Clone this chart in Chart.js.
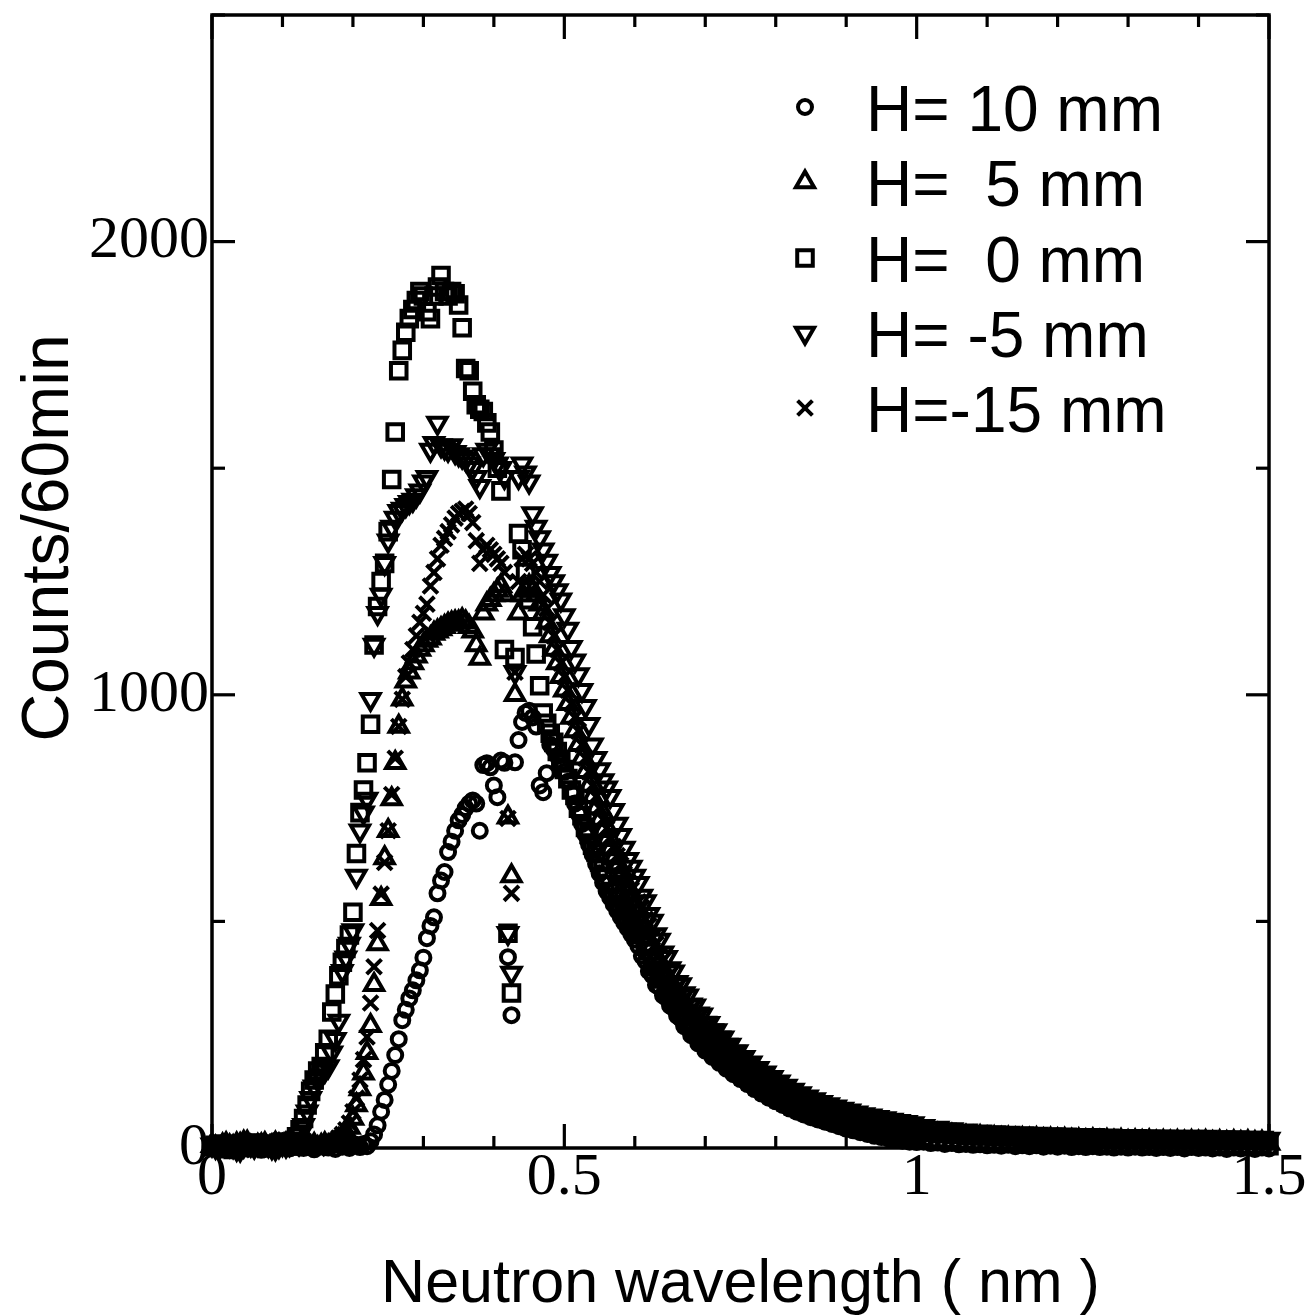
<!DOCTYPE html>
<html><head><meta charset="utf-8">
<script src="https://cdn.jsdelivr.net/npm/chart.js@4.4.1/dist/chart.umd.min.js"></script>
<style>html,body{margin:0;padding:0;background:#fff}canvas{display:block}</style>
</head><body>
<canvas id="c" width="1308" height="1315"></canvas>
<script>
// Neutron wavelength (nm)
const wavelength = [0,0.005,0.01,0.015,0.02,0.025,0.03,0.035,0.04,0.045,0.05,0.055,0.06,0.065,0.07,0.075,0.08,0.085,0.09,0.095,0.1,
0.105,0.11,0.115,0.12,0.125,0.13,0.135,0.14,0.145,0.15,
0.155,0.16,0.165,0.17,0.175,0.18,0.185,0.19,0.195,0.2,
0.205,0.21,0.215,0.22,0.225,0.23,0.235,0.24,0.245,0.25,
0.255,0.26,0.265,0.27,0.275,0.28,0.285,0.29,0.295,0.3,
0.305,0.31,0.315,0.32,0.325,0.33,0.335,0.34,0.345,0.35,
0.355,0.36,0.365,0.37,0.375,0.38,0.385,0.39,0.395,0.4,
0.405,0.41,0.415,0.42,0.425,0.43,0.435,0.44,0.445,0.45,
0.455,0.46,0.465,0.47,0.475,0.48,0.485,0.49,0.495,0.5,
0.505,0.51,0.515,0.52,0.525,0.53,0.535,0.54,0.545,0.55,
0.555,0.56,0.565,0.57,0.575,0.58,0.585,0.59,0.595,0.6,
0.605,0.61,0.615,0.62,0.625,0.63,0.635,0.64,0.645,0.65,
0.655,0.66,0.665,0.67,0.675,0.68,0.685,0.69,0.695,0.7,
0.705,0.71,0.715,0.72,0.725,0.73,0.735,0.74,0.745,0.75,
0.755,0.76,0.765,0.77,0.775,0.78,0.785,0.79,0.795,0.8,
0.805,0.81,0.815,0.82,0.825,0.83,0.835,0.84,0.845,0.85,
0.855,0.86,0.865,0.87,0.875,0.88,0.885,0.89,0.895,0.9,
0.905,0.91,0.915,0.92,0.925,0.93,0.935,0.94,0.945,0.95,
0.955,0.96,0.965,0.97,0.975,0.98,0.985,0.99,0.995,1,
1.01,1.02,1.03,1.04,1.05,1.06,1.07,1.08,1.09,1.1,
1.11,1.12,1.13,1.14,1.15,1.16,1.17,1.18,1.19,1.2,
1.21,1.22,1.23,1.24,1.25,1.26,1.27,1.28,1.29,1.3,
1.31,1.32,1.33,1.34,1.35,1.36,1.37,1.38,1.39,1.4,
1.41,1.42,1.43,1.44,1.45,1.46,1.47,1.48,1.49,1.5];

// Counts/60min, H = 10 mm
const countsH10 = [3,7,8,1,-2,5,6,11,10,4,1,-1,7,9,-4,2,5,8,9,3,2,
6,-1,8,3,11,0,5,9,-3,7,
4,10,1,6,-2,8,3,12,0,5,
7,2,9,4,15,30,50,80,106,140,
170,205,240,282,305,330,348,370,392,420,
463,490,509,562,590,609,653,676,700,723,
735,750,760,767,760,700,845,849,840,800,
774,855,850,421,293,851,900,940,960,965,
950,930,800,785,827,890,880,865,850,830,
808,785,760,738,715,692,670,648,627,606,
586,567,553,538,524,510,497,485,472,460,
446,424,413,390,381,360,355,337,331,314,
309,292,286,269,265,249,246,231,229,215,
213,201,199,188,187,175,174,163,162,152,
151,141,140,130,130,120,120,111,111,103,
103,95,95,87,87,80,81,74,75,68,
69,63,64,58,59,53,54,48,49,43,
45,39,41,35,37,31,33,27,29,24,
26,21,23,18,21,16,18,14,16,13,
14,11,12,9,11,8,9,7,8,6,
7,5,7,4,6,4,6,3,5,3,
5,2,4,2,4,2,3,1,3,1,
3,1,2,0,2,0,2,-1,2,0,
1,-1,1,-2,1,-1,0,-2,1,-1];

// Counts/60min, H = 5 mm
const countsH5 = [5,1,-3,6,9,4,2,8,7,12,12,3,0,5,6,9,-2,4,10,6,4,
8,1,6,-1,9,3,11,2,7,0,
5,9,4,8,12,18,25,35,45,65,
95,130,165,210,270,360,450,550,640,700,
770,850,930,990,1030,1050,1070,1085,1100,1110,
1120,1125,1135,1140,1145,1150,1155,1158,1160,1160,
1165,1160,1150,1140,1110,1080,1180,1200,1210,1220,
1230,1240,1220,730,600,1000,1180,1220,1230,1240,
1230,1220,1200,1180,1160,1130,1100,1070,1040,1010,
980,950,920,890,860,830,800,775,750,725,
700,680,660,640,620,600,580,562,545,530,
522,497,486,460,447,421,413,389,381,360,
353,333,328,309,305,286,284,268,265,249,
248,233,233,219,218,204,204,191,191,178,
179,166,167,155,156,144,146,134,137,125,
128,117,119,108,110,100,103,93,97,87,
91,81,85,76,80,71,75,66,70,61,
66,57,62,53,58,50,55,46,51,43,
48,40,46,37,43,35,41,32,38,30,
33,28,29,26,27,24,25,22,24,21,
22,20,21,19,20,18,20,17,19,17,
18,16,17,15,17,14,16,14,16,13,
15,13,15,12,14,12,14,12,14,12,
14,11,13,11,13,11,13,11,12,10];

// Counts/60min, H = 0 mm
const countsH0 = [2,6,9,3,4,-1,-3,7,8,5,1,10,11,4,5,2,0,9,7,11,13,
5,10,15,25,40,65,95,125,150,170,
180,210,240,300,340,380,410,440,470,520,
650,740,790,850,935,1110,1195,1250,1290,1360,
1475,1580,1715,1760,1800,1830,1850,1870,1890,1880,
1845,1830,1880,1900,1925,1890,1880,1890,1885,1860,
1810,1720,1715,1670,1640,1630,1625,1600,1580,1540,
1500,1450,1100,474,342,1082,1356,1320,1270,1210,
1150,1090,1020,960,937,915,895,875,855,835,
815,790,778,750,733,707,692,668,652,630,
615,598,582,566,552,538,524,510,497,484,
480,471,445,435,410,401,379,373,351,346,
326,322,301,298,279,276,259,259,241,241,
225,226,210,212,197,198,183,185,171,173,
159,162,148,151,137,140,127,130,118,122,
109,113,101,105,93,97,86,91,80,85,
74,80,69,74,64,69,59,64,54,59,
49,55,45,51,41,48,38,44,34,41,
31,38,29,35,26,33,24,31,22,28,
24,20,21,18,20,16,18,15,16,14,
15,13,14,12,14,11,13,10,12,10,
12,9,11,9,11,8,10,8,10,8,
10,7,9,7,9,7,9,7,9,7,
9,6,8,6,8,6,7,5,7,5];

// Counts/60min, H = -5 mm
const countsHm5 = [7,2,0,8,10,6,4,-2,-4,5,9,7,3,8,12,9,6,1,-1,4,8,
5,8,12,18,30,50,80,110,135,150,
160,170,180,210,240,280,390,420,450,480,
600,700,740,770,990,1110,1180,1220,1290,1340,
1370,1390,1405,1410,1418,1425,1430,1440,1450,1470,
1480,1540,1555,1600,1550,1545,1540,1550,1535,1530,
1525,1520,1510,1500,1480,1460,1530,1540,1530,1520,
1510,1500,1480,474,386,1050,1480,1510,1490,1470,
1400,1370,1347,1320,1295,1268,1250,1230,1210,1175,
1145,1105,1075,1045,1010,975,935,890,860,835,
811,795,776,745,715,690,662,637,620,600,
584,556,544,516,501,471,459,431,421,396,
389,366,361,341,336,316,314,296,294,276,
275,259,259,243,243,227,227,212,213,199,
200,186,188,174,176,163,166,153,156,143,
146,134,137,125,128,116,120,109,113,102,
107,96,101,91,96,86,91,81,86,76,
82,72,78,68,74,65,71,62,68,59,
65,56,62,53,59,50,57,47,54,45,
48,43,44,40,41,37,38,35,36,33,
34,31,33,30,32,29,31,28,30,27,
29,27,28,26,28,25,27,25,26,24,
26,24,25,23,25,23,24,22,24,22,
24,21,23,21,23,21,22,20,22,20];

// Counts/60min, H = -15 mm
const countsHm15 = [4,9,11,3,-1,4,7,12,2,6,10,3,-3,1,6,8,9,4,1,3,5,
3,9,-2,7,4,10,1,8,5,-1,
6,3,5,10,15,22,30,40,55,80,
110,150,195,245,320,400,480,560,630,700,
780,860,930,990,1040,1070,1100,1130,1160,1180,
1200,1240,1270,1300,1330,1345,1360,1375,1390,1400,
1405,1410,1400,1380,1340,1290,1320,1330,1320,1310,
1300,1290,1270,727,562,1050,1250,1300,1310,1300,
1290,1270,1250,1220,1190,1160,1130,1100,1070,1040,
1010,980,950,920,890,860,830,800,775,750,
725,705,685,665,645,625,605,588,570,555,
543,530,505,491,464,450,426,414,392,382,
362,354,336,330,312,306,290,287,271,268,
253,251,238,236,222,221,207,207,194,194,
181,182,170,170,158,159,148,149,138,140,
129,131,120,122,111,114,104,107,97,100,
91,94,85,89,80,84,75,79,70,74,
66,70,62,66,58,63,55,60,52,57,
49,54,46,51,43,48,41,45,38,43,
39,35,36,32,33,30,31,28,29,26,
27,25,26,24,25,23,25,22,24,21,
23,21,22,20,22,19,21,19,21,18,
20,18,20,17,19,17,19,17,19,16,
18,16,18,16,17,15,17,15,17,15];

const seriesLabels = ['H= 10 mm', 'H=  5 mm', 'H=  0 mm', 'H= -5 mm', 'H=-15 mm'];
const seriesValues = [countsH10, countsH5, countsH0, countsHm5, countsHm15];
const xTickValues = [0,0.1,0.2,0.3,0.4,0.5,0.6,0.7,0.8,0.9,1,1.1,1.2,1.3,1.4,1.5];
const xMajorValues = [0,0.5,1,1.5];
const yTickValues = [0,500,1000,1500,2000,2500];
const yLabelValues = [0,1000,2000];
const xTitle = 'Neutron wavelength ( nm )';
const yTitle = 'Counts/60min';

seriesValues.forEach((a, i) => {
  if (a.length !== wavelength.length) throw new Error('length mismatch ' + i + ': ' + a.length + ' vs ' + wavelength.length);
});

const markerStyles = [
  {pointStyle: 'circle', radius: 7, rotation: 0},
  {pointStyle: 'triangle', radius: 10.5, rotation: 0},
  {pointStyle: 'rect', radius: 11, rotation: 0},
  {pointStyle: 'triangle', radius: 10.5, rotation: 180},
  {pointStyle: 'crossRot', radius: 10.5, rotation: 0}
];
const BW = 4;

const datasets = seriesValues.map((vals, i) => ({
  label: seriesLabels[i],
  data: wavelength.map((x, j) => ({x: x, y: vals[j]})),
  pointStyle: markerStyles[i].pointStyle,
  pointRadius: markerStyles[i].radius,
  pointRotation: markerStyles[i].rotation,
  pointBorderWidth: BW,
  pointBorderColor: '#000',
  pointBackgroundColor: 'rgba(0,0,0,0)',
  showLine: false,
  clip: false
}));

const framePlugin = {
  id: 'frame',
  afterDraw(chart) {
    const ctx = chart.ctx;
    const a = chart.chartArea;
    const xs = chart.scales.x, ys = chart.scales.y;
    ctx.save();
    ctx.strokeStyle = '#000';
    ctx.fillStyle = '#000';
    ctx.lineWidth = 3.5;
    ctx.lineCap = 'butt';
    ctx.strokeRect(a.left, a.top, a.right - a.left, a.bottom - a.top);
    const line = (x1, y1, x2, y2) => { ctx.beginPath(); ctx.moveTo(x1, y1); ctx.lineTo(x2, y2); ctx.stroke(); };
    ctx.lineWidth = 3.2;
    xTickValues.forEach(v => {
      const px = xs.getPixelForValue(v);
      const L = xMajorValues.includes(v) ? 24 : 12;
      line(px, a.bottom, px, a.bottom - L);
      line(px, a.top, px, a.top + L);
    });
    yTickValues.forEach(v => {
      const py = ys.getPixelForValue(v);
      const L = yLabelValues.includes(v) ? 23 : 13;
      line(a.left, py, a.left + L, py);
      line(a.right, py, a.right - L, py);
    });
    // axis titles
    ctx.font = '61px "Liberation Sans", Arial, sans-serif';
    ctx.textAlign = 'center';
    ctx.textBaseline = 'alphabetic';
    ctx.fillText(xTitle, (a.left + a.right) / 2, 1302);
    ctx.save();
    ctx.translate(68, 538);
    ctx.rotate(-Math.PI / 2);
    ctx.font = '66px "Liberation Sans", Arial, sans-serif';
    ctx.fillText(yTitle, 0, 0);
    ctx.restore();
    // legend
    const rowBase = [131, 206, 282, 357, 432];
    ctx.font = '64px "Liberation Sans", Arial, sans-serif';
    ctx.textAlign = 'left';
    seriesLabels.forEach((lab, i) => {
      const yb = rowBase[i];
      ctx.fillStyle = 'rgba(0,0,0,0)';
      ctx.strokeStyle = '#000';
      ctx.lineWidth = BW;
      Chart.helpers.drawPoint(ctx, {
        pointStyle: markerStyles[i].pointStyle,
        radius: markerStyles[i].radius,
        rotation: markerStyles[i].rotation,
        borderWidth: BW
      }, 805, yb - 24);
      ctx.fillStyle = '#000';
      ctx.fillText(lab, 866, yb);
    });
    ctx.restore();
  }
};

new Chart(document.getElementById('c'), {
  type: 'scatter',
  data: {datasets: datasets},
  options: {
    responsive: false,
    devicePixelRatio: 1,
    animation: false,
    events: [],
    layout: {padding: {top: 14, right: 39, left: 0, bottom: 0}},
    plugins: {legend: {display: false}, tooltip: {enabled: false}},
    scales: {
      x: {
        type: 'linear', min: 0, max: 1.5,
        grid: {display: false, drawTicks: false},
        border: {display: false},
        ticks: {
          stepSize: 0.5, autoSkip: false, padding: 0, color: '#000',
          font: {family: '"Liberation Serif", "Times New Roman", serif', size: 60, lineHeight: 1},
          callback: v => String(v)
        },
        afterFit: s => { s.height = 167; s.paddingLeft = 0; s.paddingRight = 0; }
      },
      y: {
        type: 'linear', min: 0, max: 2500,
        grid: {display: false, drawTicks: false},
        border: {display: false},
        ticks: {
          stepSize: 500, autoSkip: false, padding: 3, color: '#000',
          font: {family: '"Liberation Serif", "Times New Roman", serif', size: 60, lineHeight: 1},
          callback: v => yLabelValues.includes(v) ? String(v) : ''
        },
        afterFit: s => { s.width = 212; s.paddingTop = 0; s.paddingBottom = 0; }
      }
    }
  },
  plugins: [framePlugin]
});
</script>
</body></html>
